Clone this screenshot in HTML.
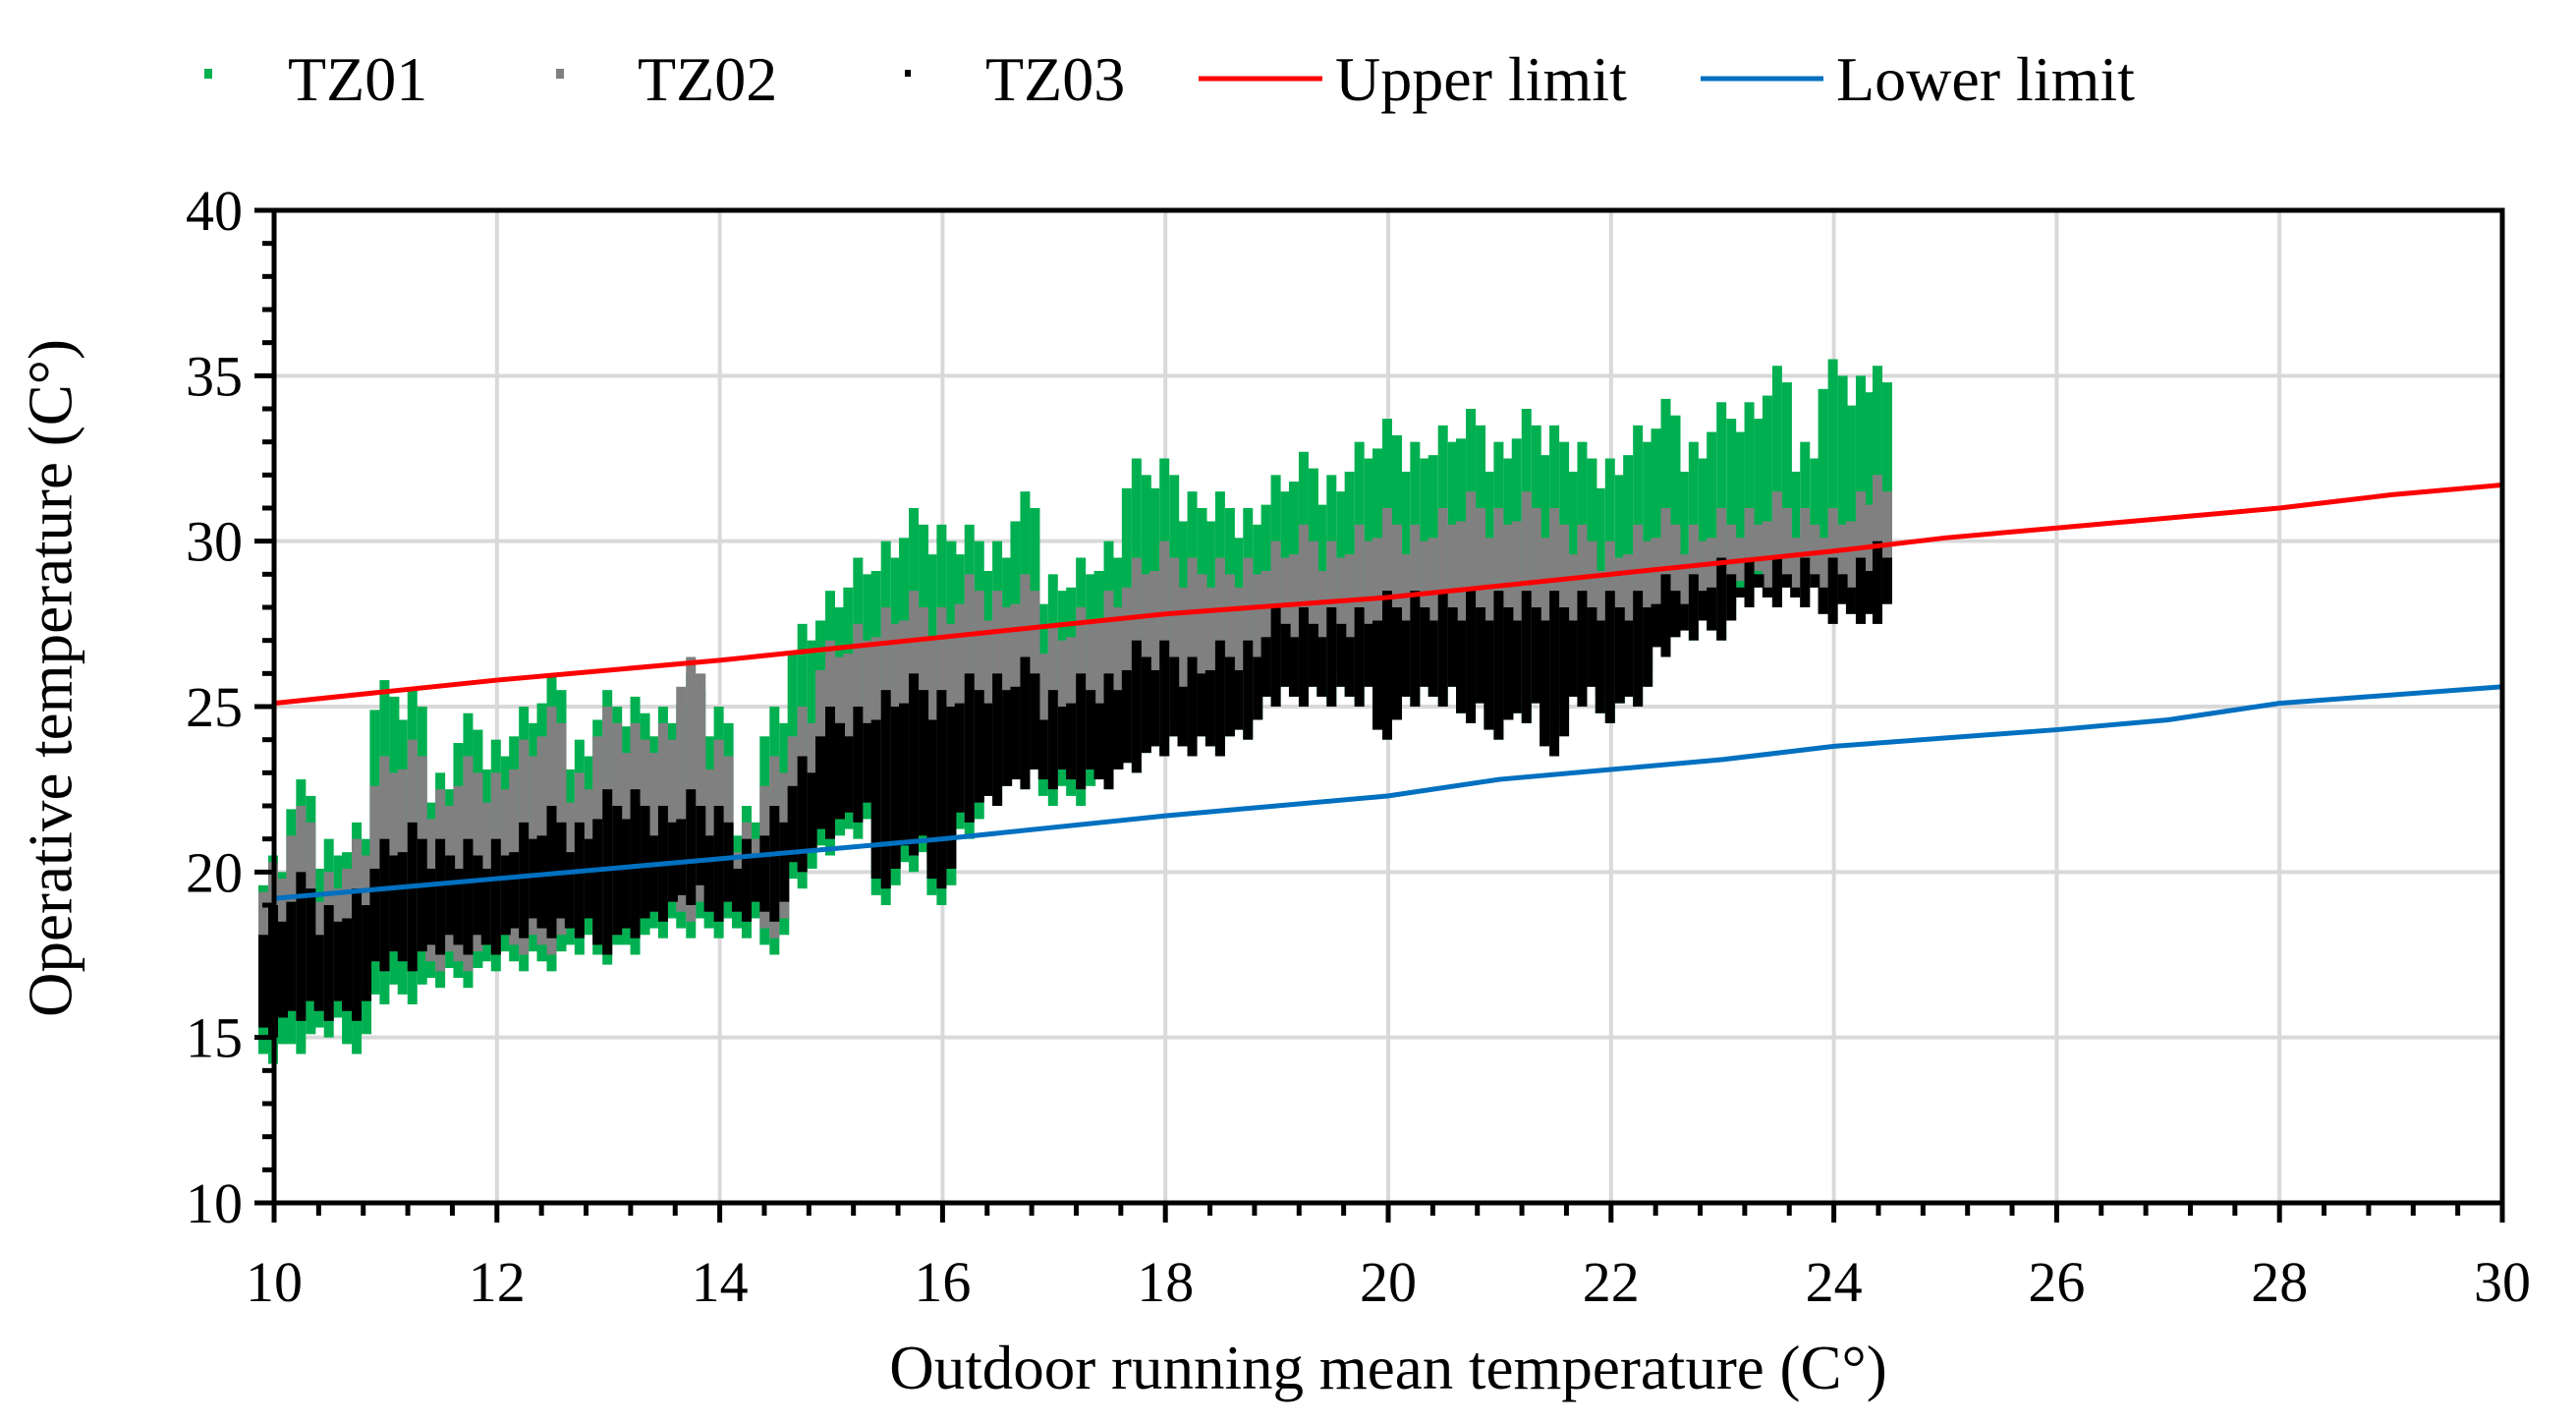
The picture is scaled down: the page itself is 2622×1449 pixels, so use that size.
<!DOCTYPE html>
<html><head><meta charset="utf-8"><style>
html,body{margin:0;padding:0;background:#fff;}
svg{display:block;font-family:"Liberation Serif",serif;}
</style></head><body>
<svg id="chart" width="2622" height="1449" viewBox="0 0 2622 1449">
<g id="grid"></g>
<g id="scatter"></g>
<g id="lines"></g>
<g id="axes"></g>
<g id="legend">
 <g><rect x="208" y="70" width="8" height="10" fill="#00b050"/><text x="293" y="102" font-size="64">TZ01</text></g>
 <g><rect x="566" y="70" width="8" height="10" fill="#808080"/><text x="649" y="102" font-size="64">TZ02</text></g>
 <g><rect x="921" y="71" width="6" height="7" fill="#000"/><text x="1003" y="102" font-size="64">TZ03</text></g>
 <g><line x1="1220" y1="80" x2="1346" y2="80" stroke="#ff0000" stroke-width="5"/><text x="1359" y="102" font-size="64">Upper limit</text></g>
 <g><line x1="1731" y1="80" x2="1856" y2="80" stroke="#0070c0" stroke-width="5"/><text x="1869" y="102" font-size="64">Lower limit</text></g>
</g>
<text x="58" y="690" font-size="63" text-anchor="middle" transform="rotate(-90 58 690)" dominant-baseline="middle">Operative temperature (C°)</text>
<text x="1413" y="1413" font-size="63" text-anchor="middle">Outdoor running mean temperature (C°)</text>
</svg>
<script>
const colX = [10.0,10.25,10.5,10.75,11.0,11.25,11.5,11.75,12.0,12.25,12.5,12.75,13.0,13.25,13.5,13.75,14.0,14.25,14.5,14.75,15.0,15.25,15.5,15.75,16.0,16.25,16.5,16.75,17.0,17.25,17.5,17.75,18.0,18.25,18.5,18.75,19.0,19.25,19.5,19.75,20.0,20.25,20.5,20.75,21.0,21.25,21.5,21.75,22.0,22.25,22.5,22.75,23.0,23.25,23.5,23.75,24.0,24.25,24.4];
const tz01Hi = [20.5,22.8,21,21.5,25.8,25.5,23,24.8,24,25,26,24,25.5,25.3,25,26,25,22,25,27.5,28.5,29.5,30,31,30.5,30.5,30,31.5,29,29.5,30,32.5,32.5,31.5,31.5,31,32,32.7,32,33,33.7,33,33.5,34,33,34,33.5,33,32.5,33.5,34.3,33,34.2,34.2,35.3,33,35.5,35,35.3];
const tz01Lo = [14.2,14.5,15,14.5,16,16,16.5,16.5,17,17,17,17.5,17.2,17.5,18,18,18,18,17.5,19.5,20.5,21,19,20,19,21,22,22.5,22,22,22.5,23,23.5,23.5,23.5,24,25,25,25,25,24,25,25,24.5,24,24.5,24,25,24.5,25,26.5,27,27,28,28,28,27.5,27.5,27.5];
const tz02Hi = [20.3,22,20,21,23.5,24,22.5,23.5,23,24,25,23,25,24.5,24.5,26.5,24,21.5,23.5,25,27,27.5,28,28.5,28,29,28.5,29,27.5,28,28.5,29.5,30,29.5,29.5,29.5,30,30.5,30,30.5,31,30.5,31,31.5,31,31.5,31,30.5,30,30.5,31,30.5,31,31,31.5,31,31,31.5,32];
const tz02Lo = [15,15.5,15.5,16,17,17,17,17,17.5,17.5,17.5,18,17.5,18,18.5,18.5,18.5,18.5,18,20,21,21.5,20,21,20,21.5,22,23,22.5,22.5,23,23.5,24,24,24,24.5,25.5,25.5,25.5,25.5,24.5,25.5,25.5,25,24.5,25,24.5,25,25,25.5,27,27.5,27.5,28.5,28,28,27.5,27.5,27.5];
const tz03Hi = [19,20,19,19.5,21,21.5,21,21,21,21.5,22,21.5,22.5,22.5,22,22.5,22,21,22,23.5,25,25,25.5,26,25.5,26,26,26.5,25.5,26,26,27,27,26.5,27,27,28,28,28,28,28.5,28.5,28.5,28.5,28.5,28.5,28.5,28.5,28.5,28.5,29,29,29.5,29.5,29.5,29.5,29.5,29.5,30];
const tz03Lo = [15,15.5,15.5,15.5,17,17,17.5,17.5,17.5,18,18,18,17.5,18,18.5,19,18.5,18.5,18.5,20,21,21.5,19.5,20.5,19.5,21.5,22,22.5,22.5,22.5,22.5,23,23.5,23.5,23.5,24,25,25,25,25,24,25,25,24.5,24,24.5,23.5,25,24.5,25,26.5,27,27,28,28,28,27.5,27.5,27.5];
const upperX = [10,12,14,16,18,20,22,24,25,26,27,28,29,30];
const upperY = [25.1,25.8,26.4,27.1,27.8,28.3,29.0,29.7,30.1,30.4,30.7,31.0,31.4,31.7];
const lowerX = [10,12,14,16,18,20,21,22,23,24,26,27,28,30];
const lowerY = [19.2,19.8,20.4,21.0,21.7,22.3,22.8,23.1,23.4,23.8,24.3,24.6,25.1,25.6];
const xTicks = [10,12,14,16,18,20,22,24,26,28,30];
const yTicks = [10,15,20,25,30,35,40];

const L=279,R=2547,T=214,B=1224;
const sx=v=>L+(v-10)/(30-10)*(R-L);
const sy=v=>B-(v-10)/(40-10)*(B-T);
const NS="http://www.w3.org/2000/svg";
function mk(tag,attrs,parent){const e=document.createElementNS(NS,tag);for(const k in attrs)e.setAttribute(k,attrs[k]);parent.appendChild(e);return e;}
const grid=document.getElementById('grid'),sc=document.getElementById('scatter'),ln=document.getElementById('lines'),ax=document.getElementById('axes');

xTicks.forEach(v=>{if(v>10&&v<30){const g=mk('line',{x1:sx(v),x2:sx(v),y1:T,y2:B,stroke:'#d9d9d9','stroke-width':4},grid);

}});
yTicks.forEach(v=>{if(v>10&&v<40){const g=mk('line',{x1:L,x2:R,y1:sy(v),y2:sy(v),stroke:'#d9d9d9','stroke-width':4},grid);

}});

const strips=[[-11,0.9,0.3],[-1,0,0],[9,0.5,0.6]];
function drawSeries(hi,lo,color,name){
  colX.forEach((x,i)=>{
    if(x>24.45) return;
    strips.forEach(s=>{
      const h=hi[i]-s[1], l=lo[i]+s[2];
      const r=mk('rect',{x:sx(x)+s[0]-5,y:sy(h),width:10,height:Math.max(4,sy(l)-sy(h)),fill:color},sc);
      
      
    });
  });
}
drawSeries(tz01Hi,tz01Lo,'#00b050','tz01');
drawSeries(tz02Hi,tz02Lo,'#808080','tz02');
drawSeries(tz03Hi,tz03Lo,'#000000','tz03');

function poly(xs,ys,color,name){
  const p=mk('polyline',{points:xs.map((x,i)=>sx(x)+','+sy(ys[i])).join(' '),fill:'none',stroke:color,'stroke-width':5},ln);
  
  
}
poly(upperX,upperY,'#ff0000','upper-limit-line');
poly(lowerX,lowerY,'#0070c0','lower-limit-line');

const frame=mk('rect',{x:L,y:T,width:R-L,height:B-T,fill:'none',stroke:'#000','stroke-width':5},ax);


for(let v=10;v<=40;v++){
  const major=v%5===0;
  const t=mk('line',{x1:L-(major?20:12),x2:L,y1:sy(v),y2:sy(v),stroke:'#000','stroke-width':5},ax);
  
  
}
yTicks.forEach(v=>{
  const t=mk('text',{x:247,y:sy(v)+20,'font-size':58,'text-anchor':'end'},ax);t.textContent=v;
  
  
});
for(let k=0;k<=50;k++){
  const v=10+k*0.4;const major=k%5===0;
  const t=mk('line',{x1:sx(v),x2:sx(v),y1:B,y2:B+(major?20:13),stroke:'#000','stroke-width':5},ax);
  
  
}
xTicks.forEach(v=>{
  const t=mk('text',{x:sx(v),y:1324,'font-size':58,'text-anchor':'middle'},ax);t.textContent=v;
  
  
});
</script>
</body></html>
